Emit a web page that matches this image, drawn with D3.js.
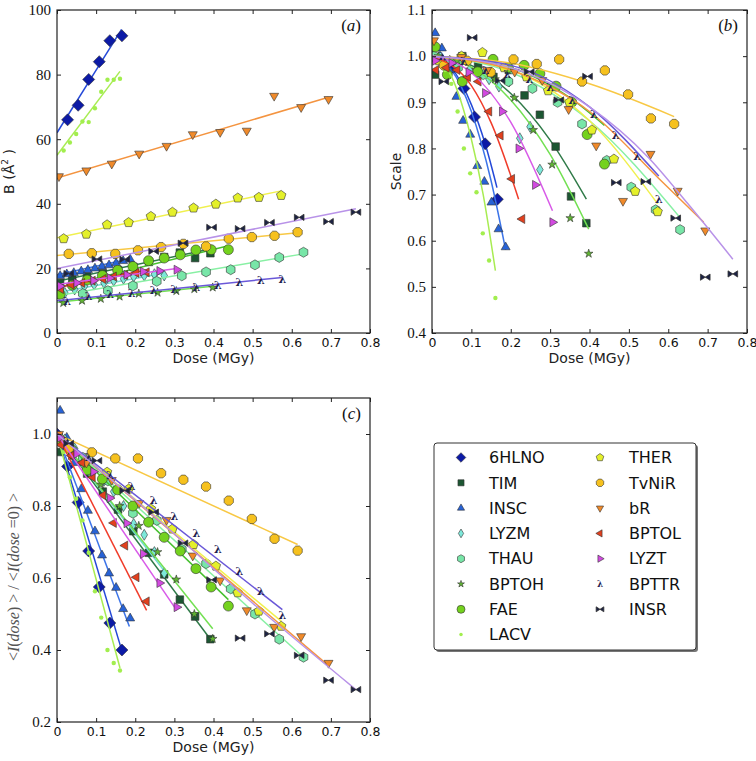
<!DOCTYPE html>
<html>
<head>
<meta charset="utf-8">
<script src="https://cdn.jsdelivr.net/npm/d3@7"></script>
<style>
  body { margin: 0; background: #fff; }
  svg { display: block; }
</style>
</head>
<body>
<svg id="chart" width="756" height="761"></svg>
<script>
// series, in legend order
var seriesNames = ['6HLNO', 'TIM', 'INSC', 'LYZM', 'THAU', 'BPTOH', 'FAE', 'LACV',
  'THER', 'TvNiR', 'bR', 'BPTOL', 'LYZT', 'BPTTR', 'INSR']

// dose (MGy) of each data set
var doses = [
  [0, 0.027, 0.054, 0.081, 0.108, 0.135, 0.166],
  [0.008, 0.039, 0.077, 0.117, 0.156, 0.195, 0.235, 0.274, 0.314, 0.353, 0.392],
  [0.008, 0.025, 0.043, 0.062, 0.079, 0.097, 0.115, 0.133, 0.151, 0.169, 0.187],
  [0.02, 0.045, 0.07, 0.095, 0.12, 0.145, 0.17, 0.196, 0.223, 0.249, 0.274],
  [0.005, 0.066, 0.13, 0.194, 0.255, 0.319, 0.381, 0.444, 0.506, 0.568, 0.63],
  [0.016, 0.064, 0.112, 0.16, 0.209, 0.257, 0.305, 0.351, 0.398],
  [0.008, 0.039, 0.077, 0.116, 0.155, 0.194, 0.234, 0.274, 0.315, 0.355, 0.394, 0.438],
  [0.017, 0.033, 0.049, 0.065, 0.081, 0.097, 0.113, 0.129, 0.145, 0.161],
  [0.017, 0.075, 0.128, 0.183, 0.24, 0.295, 0.349, 0.406, 0.462, 0.516, 0.573],
  [0.03, 0.089, 0.149, 0.207, 0.266, 0.323, 0.381, 0.439, 0.498, 0.556, 0.615],
  [0.005, 0.075, 0.14, 0.21, 0.28, 0.347, 0.417, 0.485, 0.555, 0.624, 0.694],
  [0.01, 0.037, 0.064, 0.091, 0.118, 0.145, 0.174, 0.203, 0.229],
  [0.008, 0.05, 0.093, 0.135, 0.178, 0.22, 0.262, 0.306],
  [0.026, 0.081, 0.136, 0.191, 0.247, 0.3, 0.356, 0.411, 0.466, 0.521, 0.576],
  [0.03, 0.102, 0.173, 0.247, 0.322, 0.395, 0.468, 0.543, 0.619, 0.694, 0.764]
]

// (a) B factor
var bFactor = [
  [null, 66, 70.5, 78.5, 84, 90.5, 92],
  [15.5, 16.5, 17.5, 18.5, 19.5, 20.5, 22, 23.5, 24.9, 23.2, 24.7],
  [17.7, 18.2, 18.6, 19.1, 19.5, 20, 20.6, 21, 21.6, 22.3, 22.8],
  [12.4, 13.5, 14.5, 15, 15.5, 16.2, 16.8, 17.5, 17.8, 18.2, 17.8],
  [12, 12.2, 13.1, 14.6, 16, 17.7, 18.9, 19.6, 21.1, 23.4, 25],
  [9.3, 10, 10.6, 11.3, 12.2, 12.5, 13, 13.6, 14.1],
  [12, 14.8, 16.4, 17.8, 19.4, 20.6, 22.4, 23.2, 24.2, 25.7, 25.8, 25.8],
  [56.5, 59, 61.6, 65.5, 65.3, 69.6, 74.7, 78.4, 78.4, 78.7],
  [29.2, 30.6, 33.5, 34.2, 36.1, 37.4, 38.7, 39.9, 41.8, 42, 42.6],
  [24.5, 24.7, 24.5, 25.6, 26.6, 27.6, 26.8, 29.2, 29.7, 30.1, 31.2],
  [48.5, 50.3, 52.4, 55.5, 57.9, 61.5, 62.2, 62.6, 73.4, 69.9, 72.4],
  [13.6, 14.9, 15.5, 16.2, 16.7, 17.5, 18, 18.6, 18.8],
  [14.5, 15.5, 16.2, 17, 18, 19, 19.2, 19.6],
  [9.8, 11.3, 11.9, 12.4, 13.2, 13.6, 14.2, 14.7, 15.7, 16.3, 16.7],
  [18.4, 22.9, 22.8, 25.3, 27.8, 32.7, 32.3, 34.2, 35.8, 34.5, 37.4]
]

// (b) scale factor
var scaleVals = [
  [1.0, 0.99, 0.975, 0.93, 0.868, 0.81, 0.69],
  [0.96, 0.99, 1.0, 0.98, 0.955, 0.97, 0.915, 0.873, 0.804, 0.696, 0.638],
  [1.05, 1.017, 0.97, 0.912, 0.86, 0.83, 0.762, 0.728, 0.683, 0.625, 0.586],
  [1.0, 0.99, 0.985, 0.97, 0.96, 0.95, 0.934, 0.945, 0.822, 0.847, 0.754],
  [1.0, 0.975, 0.96, 0.945, 0.93, 0.9, 0.853, 0.774, 0.716, 0.667, 0.624],
  [1.0, 0.99, 0.97, 0.95, 0.91, 0.84, 0.765, 0.649, 0.572],
  [1.02, 0.96, 0.945, 0.966, 0.993, 0.975, 0.98, 0.962, 0.935, 0.9, 0.83, 0.766],
  [0.99, 0.97, 0.94, 0.88, 0.8, 0.746, 0.705, 0.616, 0.557, 0.476],
  [0.99, 1.0, 1.008, 0.975, 0.955, 0.925, 0.9, 0.84, 0.777, 0.707, 0.663],
  [0.98, 0.99, 0.965, 0.993, 0.983, 0.993, 0.945, 0.969, 0.917, 0.865, 0.853],
  [1.034, 0.998, 0.97, 0.966, 0.948, 0.885, 0.806, 0.686, 0.788, 0.708, 0.622],
  [0.97, 0.975, 0.97, 0.955, 0.945, 0.88, 0.828, 0.734, 0.647],
  [0.99, 0.985, 0.965, 0.92, 0.88, 0.8, 0.721, 0.64],
  [1.0, 0.99, 0.97, 0.96, 0.95, 0.933, 0.905, 0.875, 0.828, 0.783, 0.689],
  [0.945, 1.04, 0.947, 0.966, 0.905, 0.956, 0.726, 0.728, 0.649, 0.521, 0.528]
]

// (c) <I(dose)>/<I(dose=0)>
var relIntensity = [
  [1.0, 0.91, 0.81, 0.675, 0.575, 0.475, 0.4],
  [0.95, 0.94, 0.89, 0.84, 0.79, 0.73, 0.67, 0.61, 0.54, 0.493, 0.43],
  [1.065, 0.99, 0.92, 0.847, 0.787, 0.73, 0.663, 0.613, 0.573, 0.514, 0.488],
  [0.985, 0.96, 0.93, 0.9, 0.87, 0.84, 0.8, 0.75, 0.72, 0.672, 0.613],
  [0.99, 0.935, 0.87, 0.78, 0.76, 0.68, 0.64, 0.57, 0.5, 0.43, 0.38],
  [0.98, 0.92, 0.86, 0.8, 0.745, 0.672, 0.596, 0.5, 0.431],
  [0.98, 0.955, 0.9, 0.875, 0.845, 0.8, 0.755, 0.713, 0.675, 0.626, 0.575, 0.522],
  [0.95, 0.88, 0.82, 0.76, 0.67, 0.563, 0.49, 0.4, 0.364, 0.343],
  [0.98, 0.926, 0.894, 0.847, 0.792, 0.736, 0.693, 0.633, 0.559, 0.508, 0.466],
  [0.96, 0.949, 0.932, 0.932, 0.891, 0.873, 0.854, 0.815, 0.764, 0.709, 0.676],
  [1.0, 0.92, 0.872, 0.808, 0.761, 0.662, 0.593, 0.51, 0.464, 0.438, 0.364],
  [0.97, 0.94, 0.92, 0.88, 0.83, 0.753, 0.69, 0.602, 0.535],
  [0.99, 0.945, 0.895, 0.822, 0.752, 0.667, 0.586, 0.519],
  [0.98, 0.935, 0.886, 0.854, 0.817, 0.773, 0.725, 0.681, 0.618, 0.563, 0.496],
  [0.974, 0.926, 0.843, 0.783, 0.697, 0.595, 0.433, 0.445, 0.385, 0.316, 0.29]
]

// fitted curves as [dose, value] points
var fitBFactor = [
  [[0, 62], [0.165, 94]],
  [[0, 16], [0.392, 26]],
  [[0, 18], [0.187, 23]],
  [[0, 12.5], [0.274, 18.5]],
  [[0, 11.5], [0.63, 24.5]],
  [[0, 9.5], [0.398, 14.5]],
  [[0, 14], [0.438, 27]],
  [[0, 55], [0.161, 81]],
  [[0, 29.5], [0.573, 44]],
  [[0, 24], [0.615, 31]],
  [[0, 48], [0.694, 73]],
  [[0, 14], [0.229, 19.5]],
  [[0, 15], [0.306, 20]],
  [[0, 10], [0.576, 17.2]],
  [[0, 20], [0.764, 38.5]]
]

var fitScale = [
  [[0, 1], [0.05, 0.974], [0.1, 0.895], [0.135, 0.81], [0.165, 0.715]],
  [[0, 1], [0.1, 0.98], [0.2, 0.919], [0.3, 0.818], [0.392, 0.69]],
  [[0, 1], [0.05, 0.97], [0.1, 0.88], [0.15, 0.73], [0.187, 0.58]],
  null,
  [[0, 1], [0.2, 0.965], [0.4, 0.86], [0.63, 0.65]],
  [[0, 1], [0.1, 0.976], [0.2, 0.905], [0.3, 0.787], [0.398, 0.625]],
  [[0, 1], [0.2, 0.975], [0.35, 0.91], [0.438, 0.85]],
  [[0, 1], [0.05, 0.955], [0.1, 0.82], [0.13, 0.7], [0.161, 0.535]],
  [[0, 1], [0.2, 0.97], [0.4, 0.86], [0.573, 0.68]],
  [[0, 1], [0.2, 0.985], [0.4, 0.94], [0.615, 0.869]],
  [[0, 1], [0.2, 0.97], [0.4, 0.88], [0.576, 0.735], [0.69, 0.64]],
  [[0, 1], [0.1, 0.936], [0.15, 0.856], [0.22, 0.69]],
  [[0, 1], [0.1, 0.964], [0.2, 0.857], [0.306, 0.665]],
  [[0, 1], [0.2, 0.98], [0.4, 0.89], [0.576, 0.74]],
  [[0, 1], [0.2, 0.975], [0.4, 0.89], [0.55, 0.78], [0.65, 0.68], [0.764, 0.56]]
]

var fitIntensity = [
  [[0, 1], [0.168, 0.39]],
  [[0, 1], [0.392, 0.43]],
  [[0, 1], [0.185, 0.465]],
  [[0, 1], [0.274, 0.62]],
  [[0, 1], [0.63, 0.38]],
  [[0, 1], [0.398, 0.459]],
  [[0, 1], [0.438, 0.54]],
  [[0, 1], [0.161, 0.35]],
  [[0, 1], [0.573, 0.48]],
  [[0, 1], [0.615, 0.693]],
  [[0, 1], [0.69, 0.36]],
  [[0, 1], [0.229, 0.51]],
  [[0, 1], [0.306, 0.51]],
  [[0, 1], [0.576, 0.512]],
  [[0, 1], [0.25, 0.77], [0.5, 0.53], [0.764, 0.29]]
]

// tick values
var doseTicks = [0, 0.1, 0.2, 0.3, 0.4, 0.5, 0.6, 0.7, 0.8]
var bTicks = [0, 20, 40, 60, 80, 100]
var scaleTicks = [0.4, 0.5, 0.6, 0.7, 0.8, 0.9, 1.0, 1.1]
var intensityTicks = [0.2, 0.4, 0.6, 0.8, 1.0]

// styles
var markerShapes = ['D', 's', '^', 'd', 'h', '*', 'o', '.', 'p', 'o8', 'v', '<', '>', 'lambda', 'bow']
var markerColors = ['#0c1aa6', '#1c5632', '#2762d6', '#7de8da', '#78e6a8', '#5fb432', '#74d21e', '#a2ee4e',
  '#e4f02a', '#f6c11e', '#f08a2a', '#e2401e', '#d24ae0', '#1e2050', '#1c2244']
var lineColors = ['#2448d8', '#2f7a48', '#3c74e8', '#70dcd2', '#88f0a4', '#72e052', '#46c02e', '#a8ec52',
  '#f0f04e', '#f8c844', '#f49440', '#f03c2a', '#d85ae8', '#6a58d8', '#b892e8']
var markerSizes = [6, 3.8, 5.2, 5.5, 5, 4.2, 5, 2.2, 5, 5, 5.2, 5.2, 5.2, 0, 4.8]

var svg = d3.select('#chart')

function polygon(n, r, start) {
  var pts = []
  for (var k = 0; k < n; k++) {
    var a = start + k * 2 * Math.PI / n
    pts.push([r * Math.cos(a), r * Math.sin(a)])
  }
  return 'M' + pts.map(function(p) { return p[0].toFixed(2) + ',' + p[1].toFixed(2) }).join('L') + 'Z'
}

function markerPath(shape, s) {
  if (shape === 'D') return 'M0,' + (-s) + 'L' + s + ',0L0,' + s + 'L' + (-s) + ',0Z'
  if (shape === 'd') return 'M0,' + (-s) + 'L' + (s * 0.6) + ',0L0,' + s + 'L' + (-s * 0.6) + ',0Z'
  if (shape === 's') return 'M' + (-s) + ',' + (-s) + 'H' + s + 'V' + s + 'H' + (-s) + 'Z'
  if (shape === '^') return polygon(3, s, -Math.PI / 2)
  if (shape === 'v') return polygon(3, s, Math.PI / 2)
  if (shape === '<') return polygon(3, s, Math.PI)
  if (shape === '>') return polygon(3, s, 0)
  if (shape === 'h') return polygon(6, s, -Math.PI / 2)
  if (shape === 'p') return polygon(5, s, -Math.PI / 2)
  if (shape === 'o8') return polygon(8, s, Math.PI / 8)
  if (shape === '*') return d3.symbol(d3.symbolStar, s * s * 1.3)()
  if (shape === 'bow') {
    var h = s * 0.65
    return 'M' + (-s) + ',' + (-h) + 'L' + s + ',' + h + 'L' + s + ',' + (-h) + 'L' + (-s) + ',' + h + 'Z'
  }
  return d3.symbol(d3.symbolCircle, Math.PI * s * s)()
}

function drawMarker(g, i, px, py, k) {
  var shape = markerShapes[i]
  if (shape === 'lambda') {
    g.append('text')
      .attr('x', px).attr('y', py)
      .attr('dy', '0.35em')
      .attr('text-anchor', 'middle')
      .attr('font-family', 'DejaVu Serif')
      .attr('font-weight', 'bold')
      .attr('font-size', 11 * k)
      .attr('fill', markerColors[i])
      .text('λ')
    return
  }
  g.append('path')
    .attr('d', markerPath(shape, markerSizes[i] * k))
    .attr('transform', 'translate(' + px + ',' + py + ')')
    .attr('fill', markerColors[i])
    .attr('stroke', shape === '.' ? 'none' : '#333')
    .attr('stroke-width', shape === 'bow' ? 0.8 : 0.6)
}

function drawPanel(cfg) {
  var x = d3.scaleLinear().domain([0, 0.8]).range([0, cfg.w])
  var y = d3.scaleLinear().domain(cfg.yDomain).range([cfg.h, 0])

  var g = svg.append('g').attr('transform', 'translate(' + cfg.left + ',' + cfg.top + ')')

  var clipId = 'clip-' + cfg.id
  g.append('clipPath').attr('id', clipId)
    .append('rect').attr('width', cfg.w).attr('height', cfg.h)

  var plot = g.append('g').attr('clip-path', 'url(#' + clipId + ')')

  var line = d3.line()
    .x(function(p) { return x(p[0]) })
    .y(function(p) { return y(p[1]) })
    .curve(d3.curveMonotoneX)

  seriesNames.forEach(function(name, i) {
    if (cfg.fits[i]) {
      plot.append('path')
        .datum(cfg.fits[i])
        .attr('d', line)
        .attr('fill', 'none')
        .attr('stroke', lineColors[i])
        .attr('stroke-width', 1.5)
    }
    doses[i].forEach(function(d, j) {
      var v = cfg.values[i][j]
      if (v === null) return
      drawMarker(plot, i, x(d), y(v), 1)
    })
  })

  // axes with inward ticks on all four sides
  var xFmt = function(d) { return d === 0 ? '0' : d3.format('.1f')(d) }
  var bottom = g.append('g')
    .attr('transform', 'translate(0,' + cfg.h + ')')
    .call(d3.axisBottom(x).tickValues(doseTicks).tickFormat(xFmt).tickSizeInner(-4).tickSizeOuter(0).tickPadding(5))
  bottom.selectAll('text').attr('font-family', 'DejaVu Sans').attr('font-size', 12.5).attr('fill', '#111')

  g.append('g')
    .call(d3.axisTop(x).tickValues(doseTicks).tickFormat('').tickSizeInner(-4).tickSizeOuter(0))

  var left = g.append('g')
    .call(d3.axisLeft(y).tickValues(cfg.yTicks).tickFormat(cfg.yFmt).tickSizeInner(-4).tickSizeOuter(0).tickPadding(6))
  left.selectAll('text').attr('font-family', 'Liberation Serif').attr('font-size', 15).attr('fill', '#111')

  g.append('g')
    .attr('transform', 'translate(' + cfg.w + ',0)')
    .call(d3.axisRight(y).tickValues(cfg.yTicks).tickFormat('').tickSizeInner(-4).tickSizeOuter(0))

  g.selectAll('.domain').remove()
  g.selectAll('.tick line').attr('stroke', '#222')

  g.append('rect')
    .attr('width', cfg.w).attr('height', cfg.h)
    .attr('fill', 'none').attr('stroke', '#222').attr('stroke-width', 1.2)

  g.append('text')
    .attr('x', cfg.w / 2).attr('y', cfg.h + 30)
    .attr('text-anchor', 'middle')
    .attr('font-family', 'DejaVu Sans').attr('font-size', 14).attr('fill', '#222')
    .text('Dose (MGy)')

  // panel letter
  var letter = g.append('text')
    .attr('x', cfg.w - 9).attr('y', 21)
    .attr('text-anchor', 'end')
    .attr('font-family', 'Liberation Serif').attr('font-size', 17).attr('fill', '#111')
  letter.append('tspan').text('(')
  letter.append('tspan').attr('font-style', 'italic').text(cfg.id)
  letter.append('tspan').text(')')

  return g
}

// (a)
var ga = drawPanel({
  id: 'a', left: 57, top: 10, w: 313, h: 323,
  yDomain: [0, 100], yTicks: bTicks, yFmt: d3.format('d'),
  values: bFactor, fits: fitBFactor
})
var labA = ga.append('text')
  .attr('transform', 'translate(-43,' + (323 / 2) + ') rotate(-90)')
  .attr('text-anchor', 'middle')
  .attr('font-family', 'DejaVu Sans').attr('font-size', 14).attr('fill', '#222')
labA.append('tspan').text('B (Å')
labA.append('tspan').attr('dy', -6).attr('font-size', 9).text('2')
labA.append('tspan').attr('dy', 6).text(' )')

// (b)
var gb = drawPanel({
  id: 'b', left: 432, top: 10, w: 315, h: 323,
  yDomain: [0.4, 1.1], yTicks: scaleTicks, yFmt: d3.format('.1f'),
  values: scaleVals, fits: fitScale
})
gb.append('text')
  .attr('transform', 'translate(-31,' + (323 / 2) + ') rotate(-90)')
  .attr('text-anchor', 'middle')
  .attr('font-family', 'DejaVu Sans').attr('font-size', 14).attr('fill', '#222')
  .text('Scale')

// (c)
var gc = drawPanel({
  id: 'c', left: 57, top: 398, w: 313, h: 324,
  yDomain: [0.2, 1.1], yTicks: intensityTicks, yFmt: d3.format('.1f'),
  values: relIntensity, fits: fitIntensity
})
var labC = gc.append('text')
  .attr('transform', 'translate(-38,' + (179) + ') rotate(-90)')
  .attr('text-anchor', 'middle')
  .attr('font-family', 'Liberation Serif').attr('font-size', 16).attr('fill', '#555')
labC.append('tspan').text('<')
labC.append('tspan').attr('font-style', 'italic').text('I')
labC.append('tspan').text('(')
labC.append('tspan').attr('font-style', 'italic').text('dose')
labC.append('tspan').text(') > / <')
labC.append('tspan').attr('font-style', 'italic').text('I')
labC.append('tspan').text('(')
labC.append('tspan').attr('font-style', 'italic').text('dose')
labC.append('tspan').text(' =0) >')

// legend
var legend = svg.append('g').attr('transform', 'translate(434,443)')
legend.append('rect')
  .attr('x', 2).attr('y', 2).attr('width', 262).attr('height', 207)
  .attr('rx', 3).attr('fill', '#777')
legend.append('rect')
  .attr('width', 262).attr('height', 207)
  .attr('rx', 3).attr('fill', '#fff').attr('stroke', '#333').attr('stroke-width', 1)

seriesNames.forEach(function(name, i) {
  var col = i < 8 ? 0 : 1
  var row = i < 8 ? i : i - 8
  var cy = 14.5 + row * 25.3
  drawMarker(legend, i, col === 0 ? 27 : 166, cy, 0.8)
  legend.append('text')
    .attr('x', col === 0 ? 55 : 195).attr('y', cy)
    .attr('dy', '0.36em')
    .attr('font-family', 'DejaVu Sans').attr('font-size', 16).attr('fill', '#111')
    .text(name)
})
</script>
</body>
</html>
